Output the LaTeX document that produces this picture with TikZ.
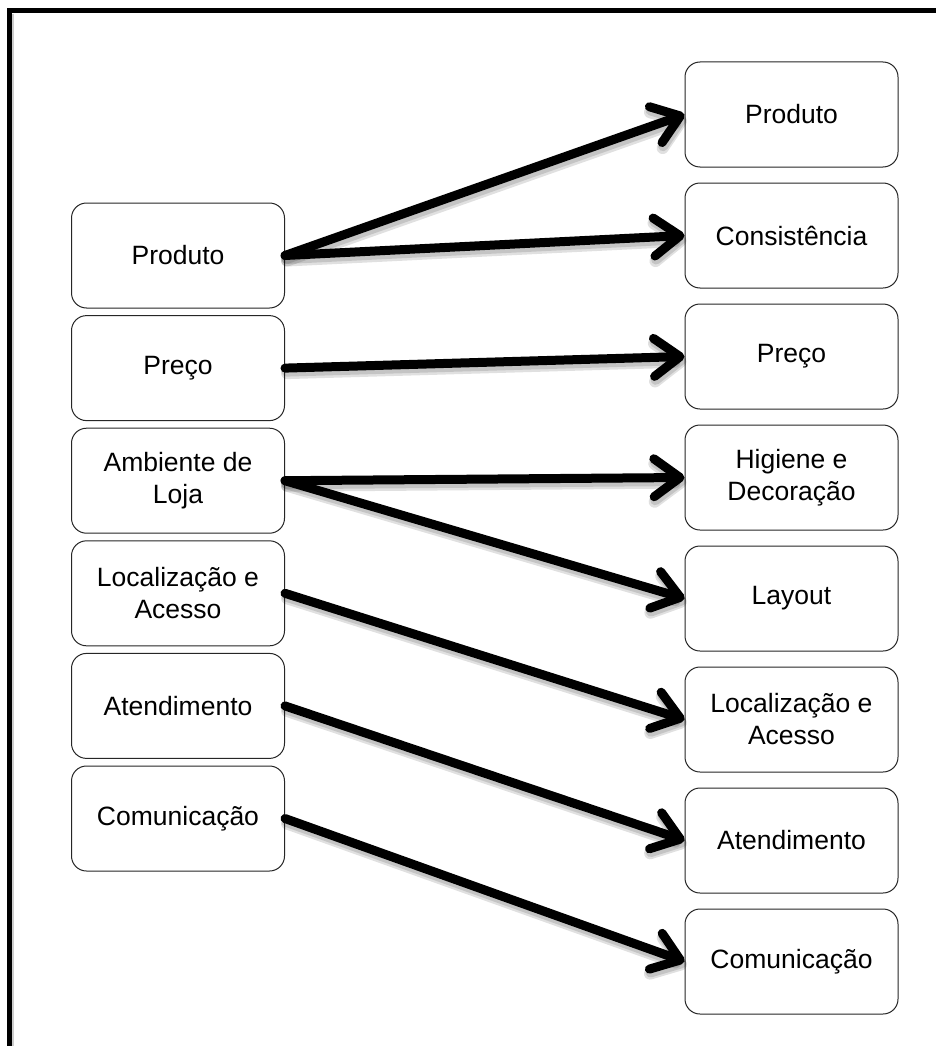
\documentclass[tikz,border=0pt]{standalone}
\usepackage{fontspec}
\setmainfont{Liberation Sans}
\usetikzlibrary{arrows.meta}
\begin{document}
\begin{tikzpicture}[x=1pt,y=-1pt,
  card/.style={draw=black!85, line width=1pt, rounded corners=15pt,
    minimum width=213pt, minimum height=105pt, inner sep=2pt,
    align=center, font=\fontsize{26.5}{32}\selectfont},
  arrowline/.style={line width=9pt, line cap=round, line join=round,
    -{Straight Barb[length=26pt, width=38pt, line cap=round, line join=round]}},
  arrowshadow/.style={arrowline, draw=black, opacity=0.12},
  frameline/.style={line width=5pt}]
  \useasboundingbox (0,0) rectangle (936,1046);
  \clip (0,0) rectangle (936,1046);
  \fill[white] (0,0) rectangle (936,1046);

  % outer frame, running past the right and bottom edges
  \draw[black!20, line width=2pt] (12.5,14) -- (12.5,1060);
  \draw[frameline] (9.2,1060) -- (9.2,10.8) -- (960,10.8);

  % left column
  \node[card] (lp) at (178,255.5) {Produto};
  \node[card] (lpr) at (178,368.1) {Preço};
  \node[card] (la) at (178,480.7) {Ambiente de\\Loja};
  \node[card] (ll) at (178,593.3) {Localização e\\Acesso};
  \node[card] (lat) at (178,705.9) {Atendimento};
  \node[card] (lc) at (178,818.5) {Comunicação};

  % right column
  \node[card] (rp) at (791.5,114.5) {Produto};
  \node[card] (rcs) at (791.5,235.5) {Consistência};
  \node[card] (rpr) at (791.5,356.5) {Preço};
  \node[card] (rh) at (791.5,477.5) {Higiene e\\Decoração};
  \node[card] (rl) at (791.5,598.5) {Layout};
  \node[card] (rla) at (791.5,719.5) {Localização e\\Acesso};
  \node[card] (rat) at (791.5,840.5) {Atendimento};
  \node[card] (rc) at (791.5,961.5) {Comunicação};

  % connectors with a soft drop shadow
  \foreach \a/\b in {lp/rp, lp/rcs, lpr/rpr, la/rh, la/rl, ll/rla, lat/rat, lc/rc} {
    \draw[arrowshadow, line width=12pt] ([shift={(2,5)}]\a.east) -- ([shift={(2,5)}]\b.west);
    \draw[arrowshadow, line width=10pt] ([shift={(1.5,3.5)}]\a.east) -- ([shift={(1.5,3.5)}]\b.west);
    \draw[arrowline] (\a.east) -- (\b.west);
  }
\end{tikzpicture}
\end{document}
